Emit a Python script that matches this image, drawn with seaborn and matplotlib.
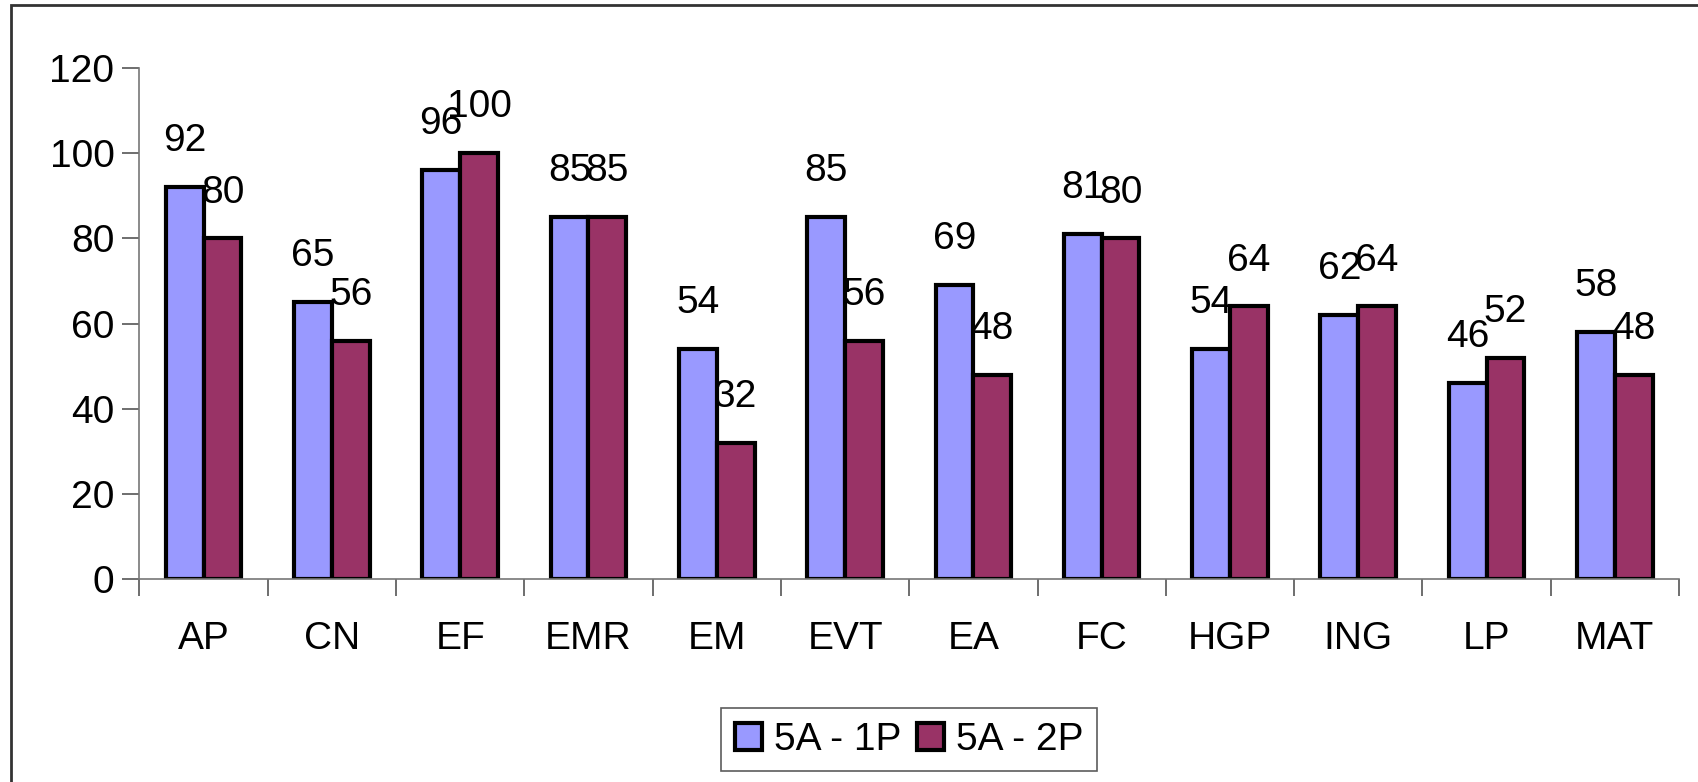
import pandas as pd
import matplotlib.pyplot as plt
import seaborn as sns
from matplotlib.patches import Rectangle

materias = ['AP', 'CN', 'EF', 'EMR', 'EM', 'EVT', 'EA', 'FC', 'HGP', 'ING', 'LP', 'MAT']
p1 = [92, 65, 96, 85, 54, 85, 69, 81, 54, 62, 46, 58]
p2 = [80, 56, 100, 85, 32, 56, 48, 80, 64, 64, 52, 48]
series = ['5A - 1P', '5A - 2P']
cores = ['#9999FF', '#993366']

df = pd.DataFrame({'materia': materias * 2,
                   'serie': [series[0]] * len(p1) + [series[1]] * len(p2),
                   'valor': p1 + p2})

sns.set_style('white')
plt.rcParams['font.family'] = ['Liberation Sans', 'DejaVu Sans']
plt.rcParams['text.color'] = 'black'
plt.rcParams['xtick.labelcolor'] = 'black'
plt.rcParams['ytick.labelcolor'] = 'black'

fig = plt.figure(figsize=(16.99, 7.82), dpi=100)
ax = fig.add_axes([0.0821, 0.2596, 0.9061, 0.6534])

sns.barplot(data=df, x='materia', y='valor', hue='serie', palette=cores,
            width=0.59, edgecolor='black', linewidth=3, ax=ax, saturation=1)

fs = 28
for c in ax.containers:
    ax.bar_label(c, padding=20, fontsize=fs, color='black')

ax.set_ylim(0, 120)
ax.set_xlim(-0.5, len(materias) - 0.5)
ax.set_yticks(range(0, 121, 20))
ax.set_xlabel('')
ax.set_ylabel('')
ax.tick_params(axis='y', labelsize=fs, length=12, width=1.2, color='#555555', pad=6, left=True)
ax.tick_params(axis='x', which='major', labelsize=fs, length=0, pad=30)
ax.set_xticks([i - 0.5 for i in range(len(materias) + 1)], minor=True)
ax.tick_params(axis='x', which='minor', length=12, width=1.2, color='#555555', bottom=True)
for s in ['top', 'right']:
    ax.spines[s].set_visible(False)
for s in ['left', 'bottom']:
    ax.spines[s].set_color('#777777')
    ax.spines[s].set_linewidth(1.2)

ax.legend_.remove()
h, l = ax.get_legend_handles_labels()
leg = fig.legend(h, l, loc='center', bbox_to_anchor=(0.535, 0.054), ncol=2, fontsize=fs,
                 frameon=True, fancybox=False, edgecolor='#333333', handlelength=0.7,
                 handleheight=0.7, handletextpad=0.3, columnspacing=0.4, borderpad=0.35)
leg.get_frame().set_linewidth(1.2)

fig.patches.append(Rectangle((11 / 1699, -0.1), 1.2, 1 - 5 / 782 + 0.1, transform=fig.transFigure,
                             fill=False, edgecolor='#333333', linewidth=2))

fig.savefig('out.png', dpi=100)
